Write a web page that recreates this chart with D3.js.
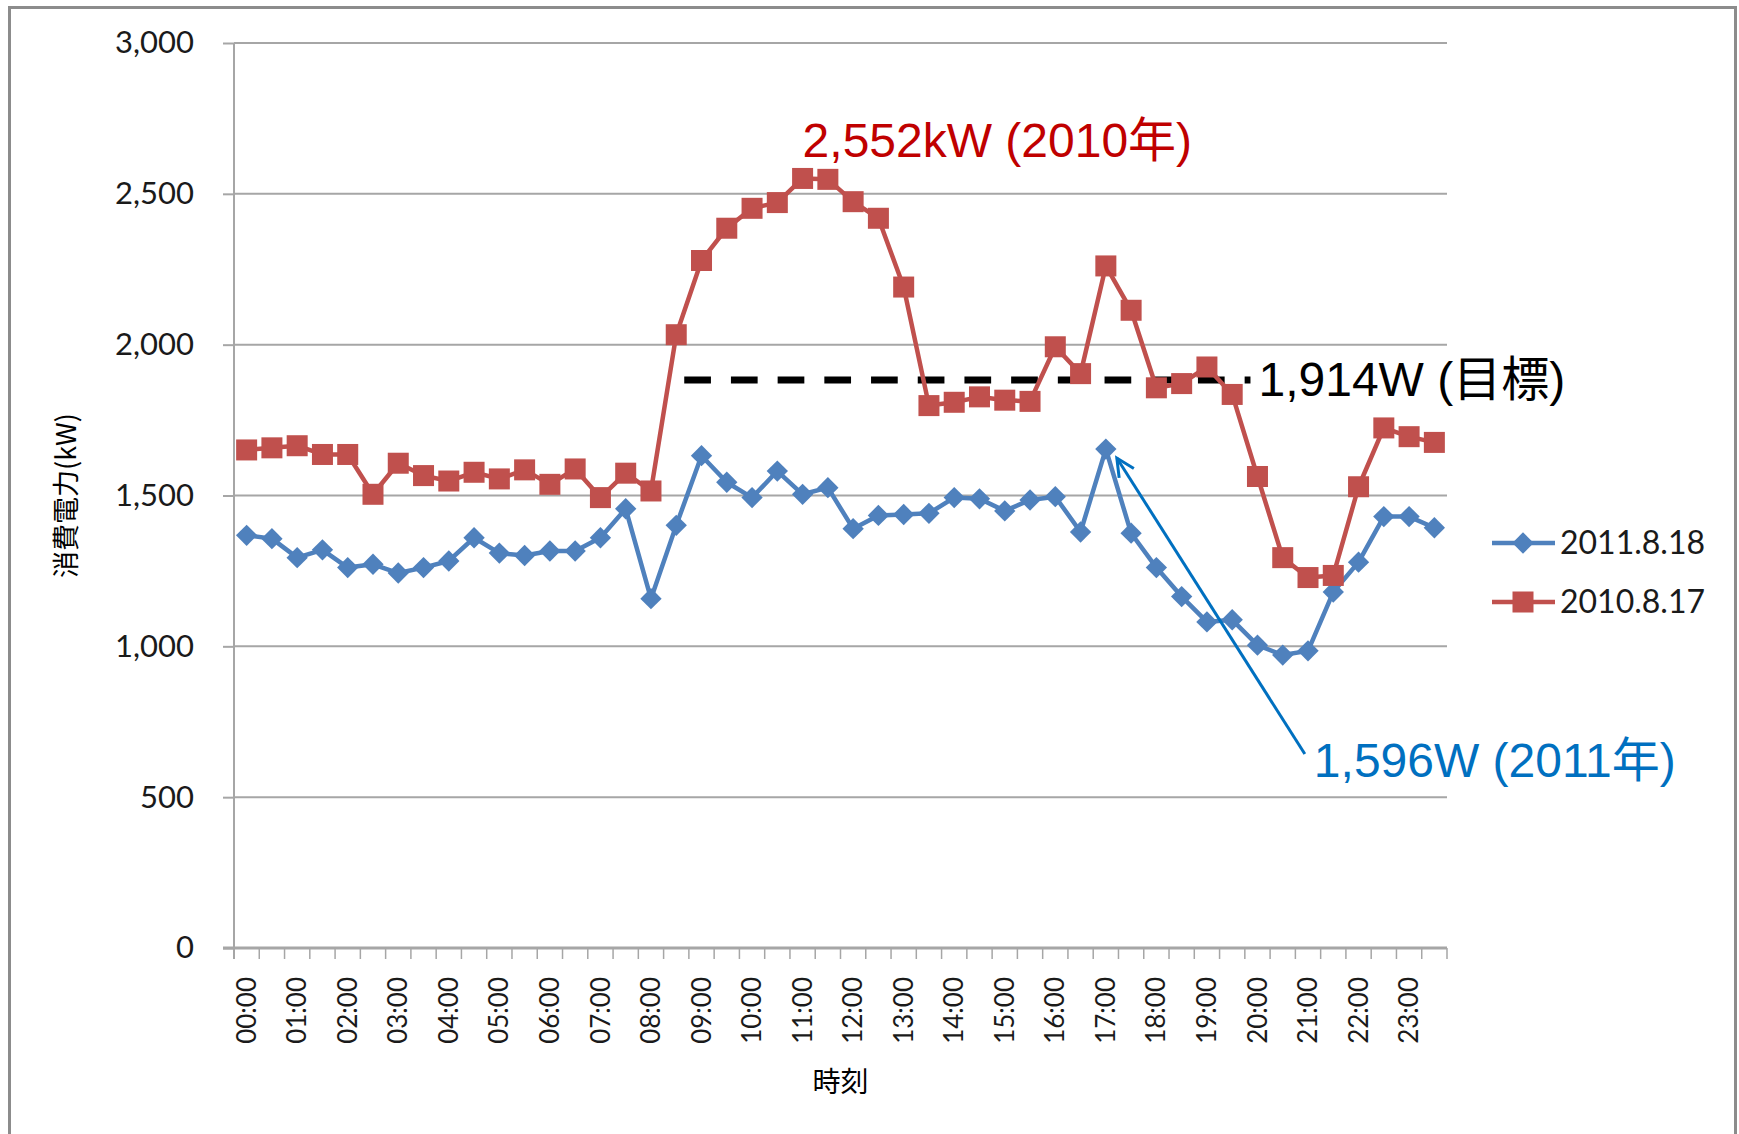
<!DOCTYPE html>
<html>
<head>
<meta charset="utf-8">
<script src="https://cdn.jsdelivr.net/npm/d3@7"></script>
<style>
  body { margin: 0; background: #fff; }
</style>
</head>
<body>
<svg id="chart" width="1739" height="1134"></svg>
<script>
// half-hour categories
var times = ["00:00","00:30","01:00","01:30","02:00","02:30","03:00","03:30",
  "04:00","04:30","05:00","05:30","06:00","06:30","07:00","07:30",
  "08:00","08:30","09:00","09:30","10:00","10:30","11:00","11:30",
  "12:00","12:30","13:00","13:30","14:00","14:30","15:00","15:30",
  "16:00","16:30","17:00","17:30","18:00","18:30","19:00","19:30",
  "20:00","20:30","21:00","21:30","22:00","22:30","23:00","23:30"];

var hourLabels = ["00:00","01:00","02:00","03:00","04:00","05:00","06:00","07:00",
  "08:00","09:00","10:00","11:00","12:00","13:00","14:00","15:00",
  "16:00","17:00","18:00","19:00","20:00","21:00","22:00","23:00"];

var yTicks = [0, 500, 1000, 1500, 2000, 2500, 3000];

var use2011 = [1368,1357,1294,1320,1261,1272,1243,1261,1283,1360,1309,1301,
  1316,1316,1360,1456,1158,1401,1632,1544,1493,1581,1504,1526,
  1390,1434,1437,1441,1493,1489,1449,1485,1496,1379,1654,1375,
  1261,1165,1081,1088,1004,971,985,1180,1279,1430,1430,1393];

var use2010 = [1651,1658,1665,1636,1636,1504,1607,1566,1548,1577,1555,1585,
  1537,1588,1493,1574,1515,2033,2279,2386,2452,2471,2551,2548,
  2474,2419,2191,1798,1809,1827,1816,1812,1993,1904,2261,2114,
  1857,1871,1926,1835,1563,1294,1228,1235,1529,1724,1695,1676];

var seriesNames = ["2011.8.18", "2010.8.17"];
var targetValue = 1883;
var targetSpan = ["08:30", "20:00"];
var peak2010 = "11:00", peak2011 = "17:00";

var svg = d3.select("#chart"),
    margin = {top: 43, left: 234, right: 292, bottom: 186},
    width = 1739 - margin.left - margin.right,
    height = 1134 - margin.top - margin.bottom;

svg.append("rect").attr("width", 1739).attr("height", 1134).attr("fill", "#fff");
svg.append("rect")
    .attr("x", 9.5).attr("y", 7.5).attr("width", 1726).attr("height", 1140)
    .attr("fill", "none").attr("stroke", "#8c8c8c").attr("stroke-width", 3);

var g = svg.append("g").attr("transform", "translate(" + margin.left + "," + margin.top + ")");

var x = d3.scaleBand().domain(times).range([0, width]);
var y = d3.scaleLinear().domain([0, 3000]).range([height, 0]);
var cx = function(t) { return x(t) + x.bandwidth() / 2; };

// gridlines
g.append("g").selectAll("line")
  .data(yTicks.slice(1))
  .enter().append("line")
    .attr("x1", 0).attr("x2", width)
    .attr("y1", function(d) { return y(d); })
    .attr("y2", function(d) { return y(d); })
    .attr("stroke", "#a6a6a6").attr("stroke-width", 2);

// y axis
var yAxis = g.append("g")
    .call(d3.axisLeft(y).tickValues(yTicks).tickFormat(d3.format(",")).tickSize(11).tickPadding(29));
yAxis.select(".domain").remove();
yAxis.selectAll(".tick line").attr("stroke", "#a6a6a6").attr("stroke-width", 2);
yAxis.selectAll("text").attr("font-family", "Lato").attr("font-size", 31).attr("fill", "#1a1a1a");
g.append("line").attr("x1", 0).attr("x2", 0).attr("y1", 0).attr("y2", height + 11)
    .attr("stroke", "#a6a6a6").attr("stroke-width", 2);

// x axis: ticks at category boundaries, labels every hour
g.append("line").attr("x1", -11).attr("x2", width).attr("y1", height).attr("y2", height)
    .attr("stroke", "#a6a6a6").attr("stroke-width", 3);
g.append("g").selectAll("line")
  .data(times.concat(["end"]))
  .enter().append("line")
    .attr("x1", function(d) { return d === "end" ? width : x(d); })
    .attr("x2", function(d) { return d === "end" ? width : x(d); })
    .attr("y1", height).attr("y2", height + 11)
    .attr("stroke", "#a6a6a6").attr("stroke-width", 1.5);

var xAxis = g.append("g")
    .attr("transform", "translate(0," + height + ")")
    .call(d3.axisBottom(x).tickValues(hourLabels).tickSize(0));
xAxis.select(".domain").remove();
xAxis.selectAll("text")
    .attr("font-family", "Lato").attr("font-size", 26).attr("fill", "#1a1a1a")
    .attr("text-anchor", "end")
    .attr("dy", "0.35em")
    .attr("transform", "translate(0,29) rotate(-90)")
    .attr("x", 0).attr("y", 0);

// axis titles
svg.append("text")
    .attr("transform", "translate(67," + (margin.top + height / 2) + ") rotate(-90)")
    .attr("text-anchor", "middle").attr("dy", "0.35em")
    .attr("font-family", "Noto Sans CJK JP").attr("font-size", 27).attr("fill", "#000")
    .text("消費電力(kW)");
svg.append("text")
    .attr("x", margin.left + width / 2).attr("y", 1082)
    .attr("text-anchor", "middle").attr("dy", "0.35em")
    .attr("font-family", "Noto Sans CJK JP").attr("font-size", 28).attr("fill", "#000")
    .text("時刻");

// target dashed line
g.append("line")
    .attr("x1", cx(targetSpan[0]) + 8).attr("x2", cx(targetSpan[1]) - 7)
    .attr("y1", y(targetValue)).attr("y2", y(targetValue))
    .attr("stroke", "#000").attr("stroke-width", 7)
    .attr("stroke-dasharray", "26.7,20");

var line = d3.line()
    .x(function(d, i) { return cx(times[i]); })
    .y(function(d) { return y(d); });

var blue = "#4f81bd", red = "#c0504d";

// 2011 series (diamonds)
g.append("path").datum(use2011)
    .attr("d", line).attr("fill", "none").attr("stroke", blue)
    .attr("stroke-width", 4.5).attr("stroke-linejoin", "round");
g.append("g").selectAll("path")
  .data(use2011)
  .enter().append("path")
    .attr("d", d3.symbol().type(d3.symbolDiamond2).size(290))
    .attr("transform", function(d, i) { return "translate(" + cx(times[i]) + "," + y(d) + ")"; })
    .attr("fill", blue);

// 2010 series (squares)
g.append("path").datum(use2010)
    .attr("d", line).attr("fill", "none").attr("stroke", red)
    .attr("stroke-width", 4.5).attr("stroke-linejoin", "round");
g.append("g").selectAll("rect")
  .data(use2010)
  .enter().append("rect")
    .attr("x", function(d, i) { return cx(times[i]) - 10.5; })
    .attr("y", function(d) { return y(d) - 10.5; })
    .attr("width", 21).attr("height", 21)
    .attr("fill", red);

// annotations
var annFont = "Liberation Sans, Noto Sans CJK JP";
g.append("text")
    .attr("x", cx(peak2010)).attr("y", y(d3.max(use2010)) - 21)
    .attr("font-family", annFont).attr("font-size", 48).attr("fill", "#c00000")
    .text("2,552kW (2010年)");
g.append("text")
    .attr("x", cx(targetSpan[1]) + 1).attr("y", y(targetValue) + 16)
    .attr("font-family", annFont).attr("font-size", 48).attr("fill", "#000")
    .text("1,914W (目標)");

var peakIdx = times.indexOf(peak2011);
var tip = [cx(peak2011) + 11, y(use2011[peakIdx]) + 9],
    tail = [cx(peak2011) + 199, y(use2011[peakIdx]) + 305];
var ang = Math.atan2(tail[1] - tip[1], tail[0] - tip[0]);
g.append("line")
    .attr("x1", tail[0]).attr("y1", tail[1]).attr("x2", tip[0]).attr("y2", tip[1])
    .attr("stroke", "#0070c0").attr("stroke-width", 3);
g.append("path")
    .attr("d", "M" + (tip[0] + 20 * Math.cos(ang - 0.45)) + "," + (tip[1] + 20 * Math.sin(ang - 0.45)) +
               "L" + tip[0] + "," + tip[1] +
               "L" + (tip[0] + 20 * Math.cos(ang + 0.45)) + "," + (tip[1] + 20 * Math.sin(ang + 0.45)))
    .attr("fill", "none").attr("stroke", "#0070c0").attr("stroke-width", 3);
g.append("text")
    .attr("x", tail[0] + 9).attr("y", tail[1] + 23)
    .attr("font-family", annFont).attr("font-size", 48).attr("fill", "#0070c0")
    .text("1,596W (2011年)");

// legend
var legend = svg.append("g").attr("transform", "translate(1492,543)");
var items = legend.selectAll("g")
  .data(seriesNames)
  .enter().append("g")
    .attr("transform", function(d, i) { return "translate(0," + i * 59 + ")"; });
items.append("line")
    .attr("x1", 0).attr("x2", 63).attr("y1", 0).attr("y2", 0)
    .attr("stroke", function(d, i) { return i === 0 ? blue : red; })
    .attr("stroke-width", 4.5);
items.each(function(d, i) {
  var it = d3.select(this);
  if (i === 0) {
    it.append("path").attr("d", d3.symbol().type(d3.symbolDiamond2).size(290))
      .attr("transform", "translate(31,0)").attr("fill", blue);
  } else {
    it.append("rect").attr("x", 20.5).attr("y", -10.5).attr("width", 21).attr("height", 21).attr("fill", red);
  }
});
items.append("text")
    .attr("x", 68).attr("dy", "0.35em")
    .attr("font-family", "Lato").attr("font-size", 32).attr("fill", "#1a1a1a")
    .text(function(d) { return d; });
</script>
</body>
</html>
